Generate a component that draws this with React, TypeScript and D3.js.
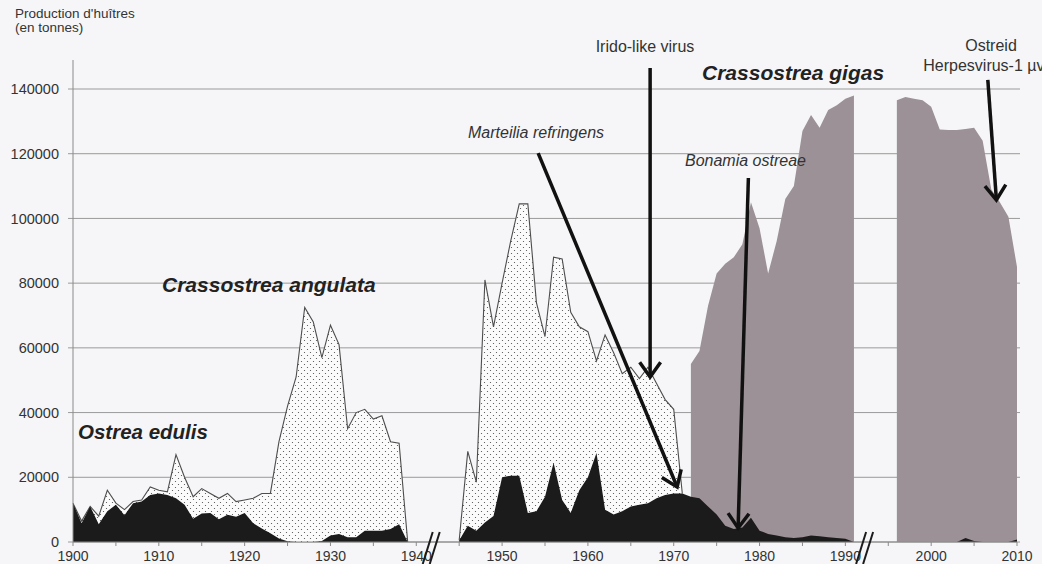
import * as d3 from "d3";

// production in thousands of tonnes, one value per year
const totalStart1 = 1900;
const total1 = [12, 6.5, 11, 8, 16, 12, 10, 12.5, 13, 17, 16, 15.5, 27, 20, 14, 16.5, 15, 13.5, 15, 12.5,
    13, 13.5, 15, 15, 31, 42, 51, 72.5, 68, 57, 67, 61, 35, 40, 41, 38, 39, 31, 30.5, 0];
const edulis1 = [12, 5.8, 11, 5.5, 9.5, 11.5, 8.3, 12, 12.5, 14.5, 15, 14.5, 13.5, 11.5, 7.2, 8.8, 9, 7, 8.4, 7.8,
    9, 5.8, 4.2, 2.7, 1.1, 0.2, 0, 0, 0, 0.3, 2, 2.5, 1.5, 1.5, 3.5, 3.5, 3.5, 4, 5.5, 0];

const totalStart2 = 1945;
const total2 = [0.5, 28, 18.5, 81, 66.5, 80, 93, 104.5, 104.5, 74, 63.5, 88, 87.5, 71, 66.5, 65, 56,
    64, 58.5, 52, 54, 50.5, 54, 49, 44, 41, 15];
const edulisStart2 = 1945;
const edulis2 = [0.5, 5, 3.5, 6, 8, 20, 20.5, 20.5, 9, 9.5, 14, 24.5, 13, 9, 16, 20, 27.5, 10, 8.5, 9.5,
    11, 11.5, 12, 13.5, 14.5, 15, 15, 14, 13.5, 11, 8.5, 5, 4, 4.5, 7.5, 3.5, 2.5, 2, 1.5, 1.2, 1.5, 2, 1.8,
    1.5, 1.2, 1, 0];

const gigasStart1 = 1972;
const gigas1 = [55, 59, 73, 83, 86, 88, 92, 105, 97, 83, 93, 106, 110, 127, 132, 128, 133.5, 135, 137, 138];
const gigasStart2 = 1996;
const gigas2 = [136.5, 137.5, 137, 136.5, 134.5, 127.5, 127.3, 127.3, 127.6, 128, 124, 109, 105, 100.5, 85];
const edulisStart3 = 1996;
const edulis3 = [0, 0, 0, 0, 0, 0, 0, 0, 1.2, 0.3, 0, 0, 0, 0, 0.8];

const yTicks = [0, 20000, 40000, 60000, 80000, 100000, 120000, 140000];
const xLabels = [1900, 1910, 1920, 1930, 1940, 1950, 1960, 1970, 1980, 1990, 2000, 2010];
const xMinor = [1900, 1905, 1910, 1915, 1920, 1925, 1930, 1935, 1940, 1945, 1950, 1955, 1960, 1965, 1970,
    1975, 1980, 1985, 1990, 1995, 2000, 2005, 2010];
const breaks = [1941.8, 1992.3];

// arrows in data space: [year, tonnes]
const arrows = [
    { name: "marteilia", from: [1954.2, 120200], to: [1970.4, 17000] },
    { name: "irido", from: [1967.25, 146500], to: [1967.25, 51000] },
    { name: "bonamia", from: [1978.7, 112500], to: [1977.5, 4300] },
    { name: "herpes", from: [2006.6, 142800], to: [2007.6, 105700] },
];

const FONT = "'Liberation Sans', Arial, sans-serif";

type P = [number, number];
const toPts = (start: number, vals: number[]): P[] => vals.map((v, i) => [start + i, v * 1000]);

export default function App() {
    const W = 1042, H = 564;
    const x = d3.scaleLinear().domain([1900, 2010]).range([73, 1017]);
    const y = d3.scaleLinear().domain([0, 140000]).range([542, 89]);

    const area = d3.area<P>().x((d) => x(d[0])).y0(y(0)).y1((d) => y(d[1]));
    const line = d3.line<P>().x((d) => x(d[0])).y((d) => y(d[1]));

    const totals = [toPts(totalStart1, total1), toPts(totalStart2, total2)];
    const edulis = [toPts(totalStart1, edulis1), toPts(edulisStart2, edulis2), toPts(edulisStart3, edulis3)];
    const gigas = [toPts(gigasStart1, gigas1), toPts(gigasStart2, gigas2)];

    const arrowPath = (a: { from: number[]; to: number[] }) => {
        const x1 = x(a.from[0]), y1 = y(a.from[1]);
        const x2 = x(a.to[0]), y2 = y(a.to[1]);
        const ang = Math.atan2(y2 - y1, x2 - x1);
        const len = 18, spread = 0.62;
        const l = [x2 - len * Math.cos(ang - spread), y2 - len * Math.sin(ang - spread)];
        const r = [x2 - len * Math.cos(ang + spread), y2 - len * Math.sin(ang + spread)];
        return {
            shaft: `M${x1},${y1}L${x2},${y2}`,
            head: `M${l[0]},${l[1]}L${x2},${y2}L${r[0]},${r[1]}`,
        };
    };

    return (
        <div style={{ position: "absolute", left: 0, top: 0 }}>
            <svg width={W} height={H} style={{ display: "block", fontFamily: FONT }}>
                <defs>
                    <pattern id="dots" width={6} height={6} patternUnits="userSpaceOnUse">
                        <rect width={6} height={6} fill="#fbfbfb" />
                        <circle cx={1.5} cy={1.5} r={0.6} fill="#4a4a4a" />
                        <circle cx={4.5} cy={4.5} r={0.6} fill="#4a4a4a" />
                    </pattern>
                </defs>
                <rect width={W} height={H} fill="#f6f6f8" />

                {/* grid */}
                {yTicks.map((t) => (
                    <line key={t} x1={68} x2={1020} y1={y(t)} y2={y(t)} stroke="#9a9a9a" strokeWidth={1} />
                ))}

                {/* Crassostrea gigas */}
                {gigas.map((s, i) => (
                    <path key={i} d={area(s) ?? ""} fill="#9b9196" />
                ))}

                {/* Crassostrea angulata (total, dotted) */}
                {totals.map((s, i) => (
                    <g key={i}>
                        <path d={area(s) ?? ""} fill="url(#dots)" />
                        <path d={line(s) ?? ""} fill="none" stroke="#4d4d4d" strokeWidth={1.1} />
                    </g>
                ))}

                {/* Ostrea edulis */}
                {edulis.map((s, i) => (
                    <path key={i} d={area(s) ?? ""} fill="#1b1b1b" />
                ))}

                {/* axes */}
                <line x1={x(1900)} x2={x(1900)} y1={60} y2={y(0)} stroke="#8a8a8a" />
                <line x1={x(1900)} x2={x(2010)} y1={y(0)} y2={y(0)} stroke="#8a8a8a" />
                {xMinor.map((t) => (
                    <line key={t} x1={x(t)} x2={x(t)} y1={y(0)} y2={y(0) + 4} stroke="#8a8a8a" />
                ))}
                {yTicks.map((t) => (
                    <text key={t} x={59} y={y(t)} dy="0.35em" textAnchor="end" fontSize={14.5} fill="#333">
                        {t}
                    </text>
                ))}
                {xLabels.map((t) => (
                    <text key={t} x={x(t)} y={561} textAnchor="middle" fontSize={14} fill="#333">
                        {t}
                    </text>
                ))}

                {/* axis breaks */}
                {breaks.map((b) => (
                    <g key={b} stroke="#1b1b1b" strokeWidth={2}>
                        <line x1={x(b) - 9} x2={x(b) + 1} y1={564} y2={532} />
                        <line x1={x(b) - 2} x2={x(b) + 8} y1={564} y2={532} />
                    </g>
                ))}

                {/* arrows */}
                {arrows.map((a) => {
                    const p = arrowPath(a);
                    return (
                        <g key={a.name} fill="none" stroke="#111" strokeWidth={3.5}>
                            <path d={p.shaft} />
                            <path d={p.head} strokeLinejoin="miter" />
                        </g>
                    );
                })}

                {/* labels */}
                <text x={15} y={18} fontSize={13.5} fill="#333">Production d'huîtres</text>
                <text x={15} y={32} fontSize={13.5} fill="#333">(en tonnes)</text>

                <text x={78} y={439} fontSize={20.5} fontWeight="bold" fontStyle="italic" fill="#222">Ostrea edulis</text>
                <text x={162} y={292} fontSize={21} fontWeight="bold" fontStyle="italic" fill="#222">Crassostrea angulata</text>
                <text x={702} y={80} fontSize={21} fontWeight="bold" fontStyle="italic" fill="#222">Crassostrea gigas</text>

                <text x={468} y={138} fontSize={16} fontStyle="italic" fill="#333">Marteilia refringens</text>
                <text x={645} y={52} fontSize={16} textAnchor="middle" fill="#333">Irido-like  virus</text>
                <text x={685} y={166} fontSize={16} fontStyle="italic" fill="#333">Bonamia ostreae</text>
                <text x={991} y={51} fontSize={16} textAnchor="middle" fill="#333">Ostreid</text>
                <text x={991} y={71} fontSize={16} textAnchor="middle" fill="#333">Herpesvirus-1 µvar</text>
            </svg>
        </div>
    );
}
